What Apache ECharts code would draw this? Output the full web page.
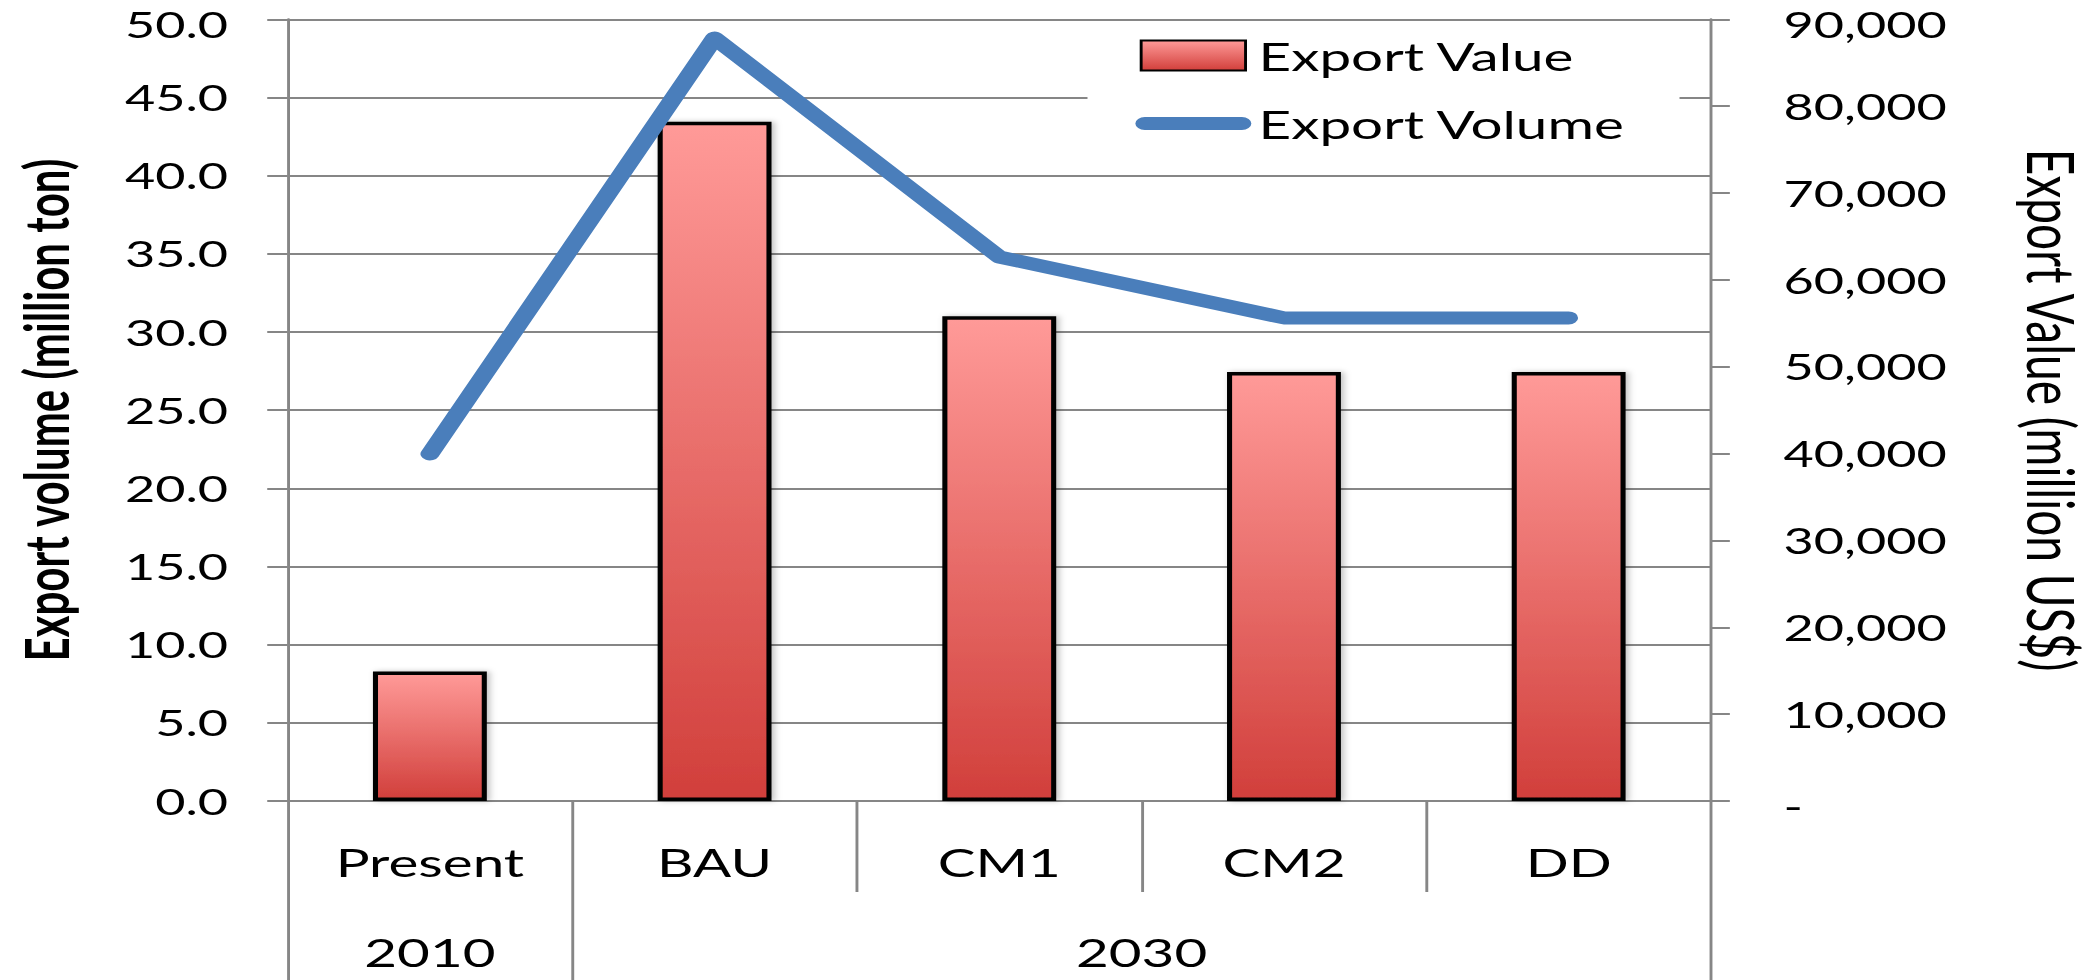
<!DOCTYPE html>
<html><head><meta charset="utf-8">
<script src="https://cdn.jsdelivr.net/npm/echarts@6/dist/echarts.min.js"></script>
<style>
html,body{margin:0;padding:0;background:#fff;overflow:hidden;}
#chart{width:1447px;height:980px;transform:scaleX(1.45);transform-origin:0 0;}
</style></head><body><div id="chart"></div>
<script>
// ---- data ----
const categories = ['Present', 'BAU', 'CM1', 'CM2', 'DD'];
const groupNames = ['2010', '2030'];
const groupSizes = [1, 4];
const exportValue = [14900, 78200, 55800, 49400, 49400];   // million US$ (bars, right axis)
const exportVolume = [22.2, 48.8, 34.8, 30.9, 30.9];       // million ton (line, left axis)
const leftAxisRange = [0, 50, 5];
const rightAxisRange = [0, 90000, 10000];

// group boundaries / centres derived from group sizes
const groupBounds = [0];
groupSizes.forEach(s => groupBounds.push(groupBounds[groupBounds.length - 1] + s));
const groupCenters = groupSizes.map((s, i) => groupBounds[i] + s / 2);
const groupMax = groupBounds[groupBounds.length - 1];
// keep the outermost boundary tick just inside the axis extent so it is drawn
const groupTickValues = groupBounds.map(b => Math.min(b, groupMax - 1e-6));

const FONT = 'Lato';
const GRAY = '#868686';
const BLUE = '#4A7EBB';

const tickRich = {
  top: {fontFamily: FONT, fontSize: 36, color: '#000', padding: [11, 0, 0, 0]},
  low: {fontFamily: FONT, fontSize: 36, color: '#000', padding: [10, 0, 0, 0]}
};

const chart = echarts.init(document.getElementById('chart'), null, {renderer: 'svg'});
chart.setOption({
  animation: false,
  backgroundColor: '#fff',
  textStyle: {fontFamily: FONT, color: '#000'},
  grid: {left: 198.3, right: 259.1, top: 19.3, bottom: 179, containLabel: false},
  legend: {
    orient: 'vertical',
    left: 750, top: 22,
    padding: [14, 37, 32, 33],
    backgroundColor: '#fff',
    itemWidth: 80, itemHeight: 30, itemGap: 29,
    symbolKeepAspect: true,
    textStyle: {fontFamily: FONT, fontSize: 39, color: '#000', lineHeight: 39},
    data: [
      {name: 'Export Value', icon: 'path://M0,0 L72,0 L72,30 L0,30 Z'},
      {name: 'Export Volume',
       icon: 'path://M6.5,0 L73.5,0 A6.5,6.5 0 0 1 73.5,13 L6.5,13 A6.5,6.5 0 0 1 6.5,0 Z',
       itemStyle: {color: BLUE, borderWidth: 0}}
    ],
    z: 10
  },
  xAxis: [{
    type: 'category',
    data: categories,
    gridIndex: 0,
    position: 'bottom',
    axisLine: {show: true, lineStyle: {color: GRAY, width: 2}},
    axisTick: {show: true, interval: 0, length: 91, lineStyle: {color: GRAY, width: 2}},
    axisLabel: {fontFamily: FONT, fontSize: 39, color: '#000', margin: 41, interval: 0},
    splitLine: {show: false}
  }, {
    type: 'value',
    gridIndex: 0,
    position: 'bottom',
    offset: 91,
    min: 0, max: groupMax,
    axisLine: {show: true, onZero: false, lineStyle: {color: 'rgba(0,0,0,0)', width: 1}},
    axisTick: {show: true, customValues: groupTickValues, length: 88, lineStyle: {color: GRAY, width: 2}},
    axisLabel: {
      fontFamily: FONT, fontSize: 39, color: '#000', margin: 40,
      showMinLabel: true, showMaxLabel: true,
      customValues: groupCenters,
      formatter: v => { const i = groupCenters.indexOf(v); return i >= 0 ? groupNames[i] : ''; }
    },
    splitLine: {show: false}
  }],
  yAxis: [{
    type: 'value',
    position: 'left',
    min: leftAxisRange[0], max: leftAxisRange[1], interval: leftAxisRange[2],
    name: 'Export volume (million ton)',
    nameLocation: 'middle', nameRotate: 90, nameGap: 146,
    nameTextStyle: {fontFamily: FONT, fontSize: 42, fontWeight: 'bold', color: '#000'},
    axisLine: {show: true, lineStyle: {color: GRAY, width: 2}},
    axisTick: {show: true, length: 14, lineStyle: {color: GRAY, width: 2}},
    axisLabel: {fontFamily: FONT, fontSize: 36, lineHeight: 30, color: '#000', margin: 41,
      rich: tickRich,
      formatter: v => v === leftAxisRange[1] ? '{top|' + v.toFixed(1) + '}' : v.toFixed(1)},
    splitLine: {show: true, lineStyle: {color: GRAY, width: 2}}
  }, {
    type: 'value',
    position: 'right',
    min: rightAxisRange[0], max: rightAxisRange[1], interval: rightAxisRange[2],
    name: 'Export Value (million US$)',
    nameLocation: 'middle', nameRotate: -90, nameGap: 213,
    nameTextStyle: {fontFamily: FONT, fontSize: 46, color: '#000'},
    axisLine: {show: true, lineStyle: {color: GRAY, width: 2}},
    axisTick: {show: true, length: 13, lineStyle: {color: GRAY, width: 2}},
    axisLabel: {fontFamily: FONT, fontSize: 36, lineHeight: 30, color: '#000', margin: 50,
      rich: tickRich,
      formatter: v => {
        if (v === 0) return '{low|-}';
        const s = v.toLocaleString('en-US');
        return v === rightAxisRange[1] ? '{top|' + s + '}' : s;
      }},
    splitLine: {show: false}
  }],
  series: [{
    name: 'Export Value',
    type: 'bar',
    xAxisIndex: 0, yAxisIndex: 1,
    barWidth: '40%',
    data: exportValue,
    itemStyle: {
      color: new echarts.graphic.LinearGradient(0, 0, 0, 1, [
        {offset: 0, color: '#FF9A98'},
        {offset: 1, color: '#D13F3B'}
      ]),
      borderColor: '#000', borderWidth: 3.5,
      shadowColor: 'rgba(0,0,0,0.25)', shadowBlur: 5, shadowOffsetX: 2
    }
  }, {
    name: 'Export Volume',
    type: 'line',
    xAxisIndex: 0, yAxisIndex: 0,
    data: exportVolume,
    symbol: 'none',
    lineStyle: {color: BLUE, width: 13, cap: 'round', join: 'round'},
    itemStyle: {color: BLUE},
    z: 5
  }]
});
</script></body></html>
